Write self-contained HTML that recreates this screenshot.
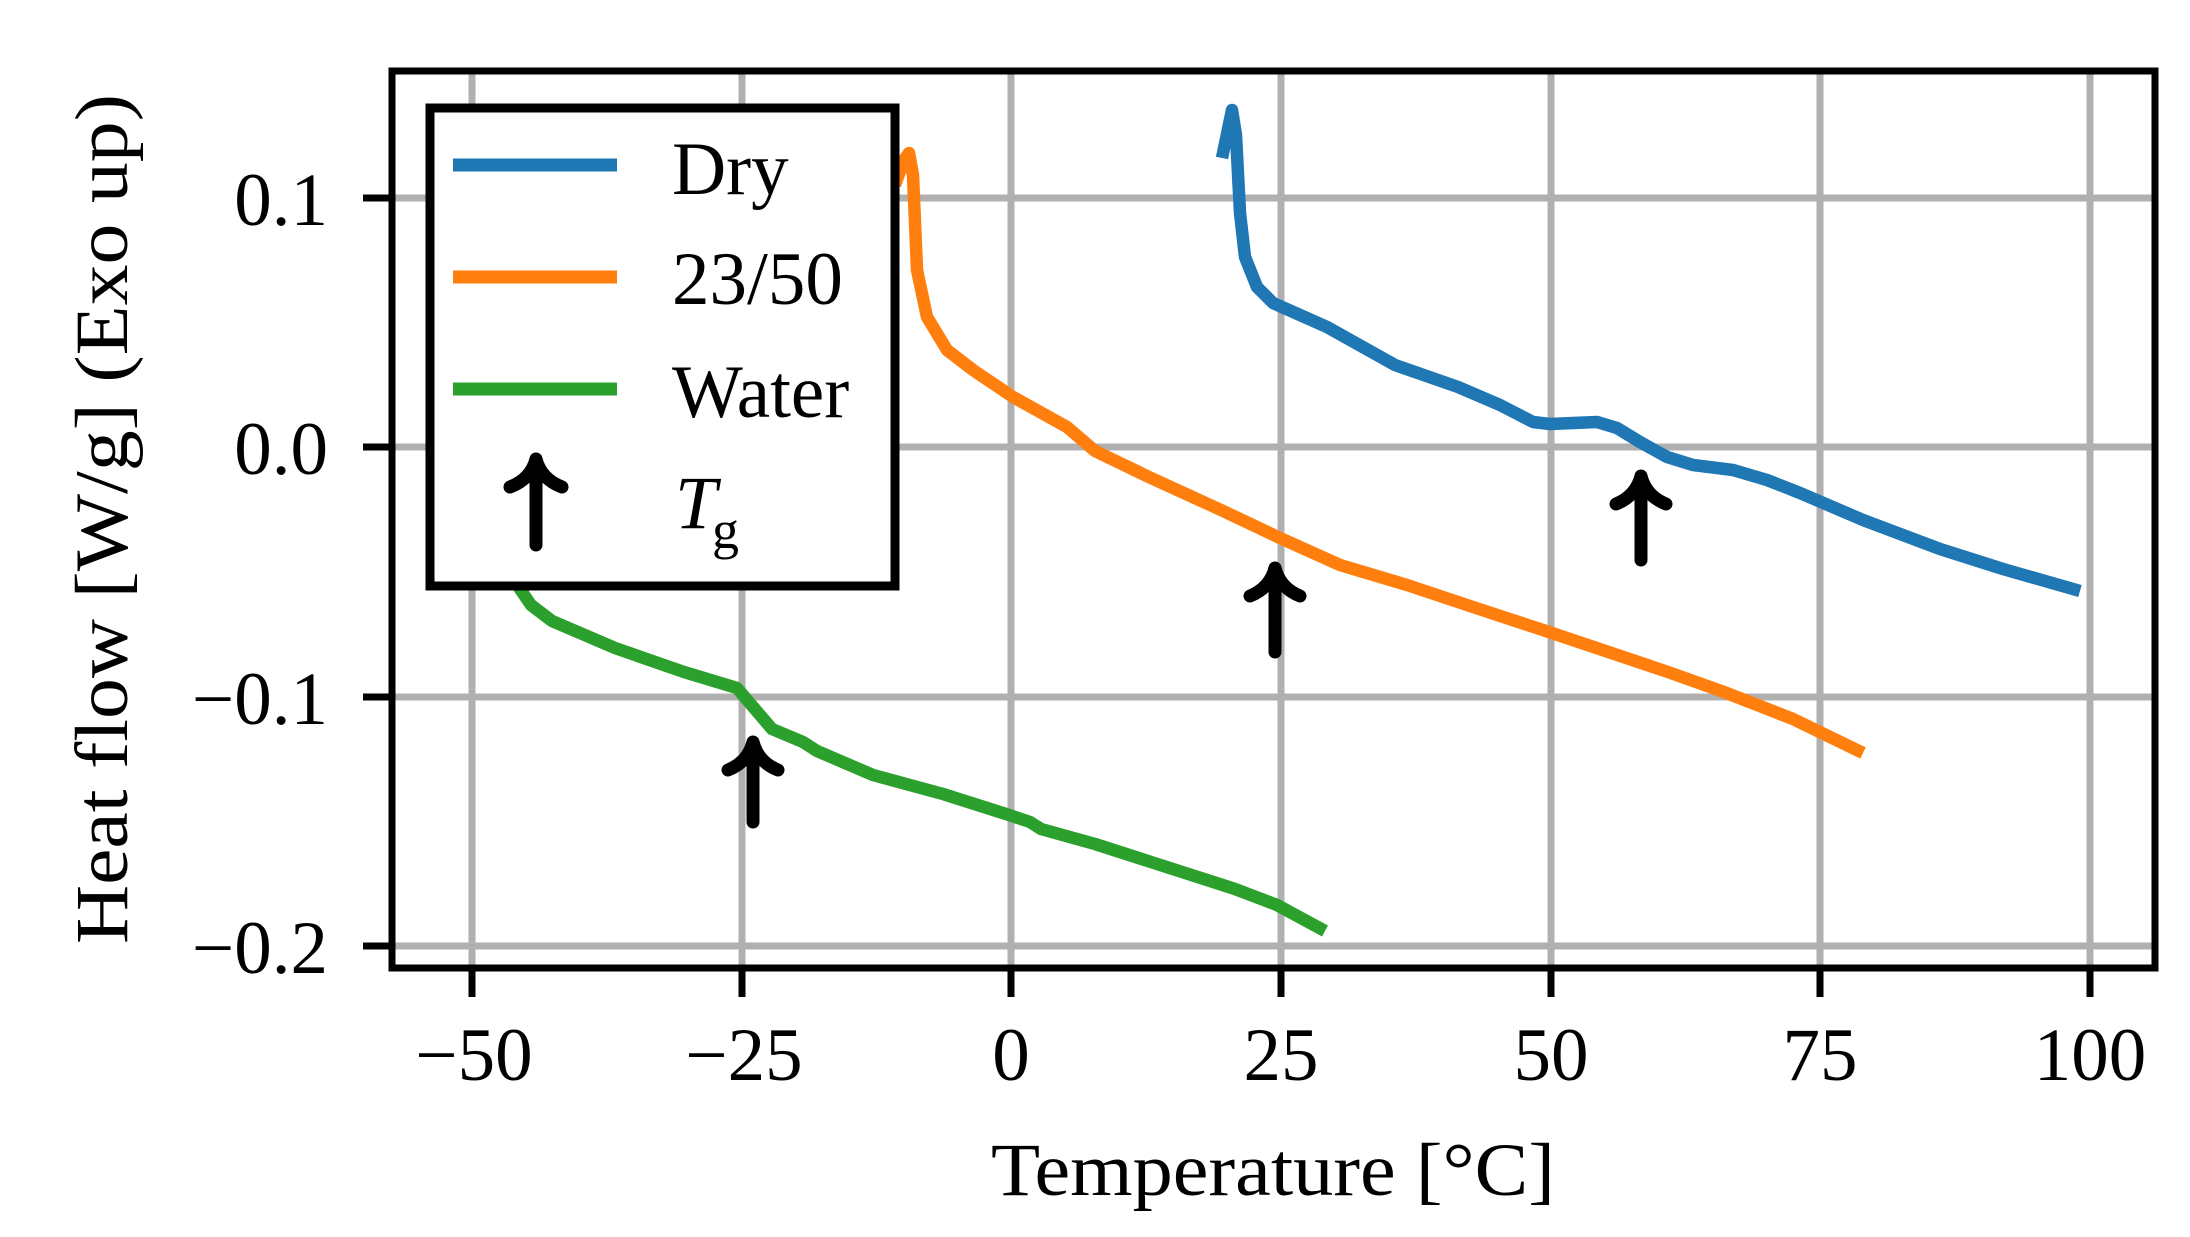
<!DOCTYPE html>
<html><head><meta charset="utf-8"><style>html,body{margin:0;padding:0;background:#fff}svg{display:block}</style></head>
<body>
<svg width="2190" height="1237" viewBox="0 0 2190 1237" xmlns="http://www.w3.org/2000/svg" font-family="Liberation Serif, serif">
<rect width="2190" height="1237" fill="#fff"/>
<g stroke="#b0b0b0" stroke-width="7">
<line x1="472" y1="71" x2="472" y2="968"/>
<line x1="742" y1="71" x2="742" y2="968"/>
<line x1="1011" y1="71" x2="1011" y2="968"/>
<line x1="1281" y1="71" x2="1281" y2="968"/>
<line x1="1551" y1="71" x2="1551" y2="968"/>
<line x1="1820" y1="71" x2="1820" y2="968"/>
<line x1="2090" y1="71" x2="2090" y2="968"/>
<line x1="392" y1="198" x2="2155" y2="198"/>
<line x1="392" y1="447" x2="2155" y2="447"/>
<line x1="392" y1="697" x2="2155" y2="697"/>
<line x1="392" y1="946" x2="2155" y2="946"/>
</g>
<g fill="none" stroke-width="12.5" stroke-linejoin="round">
<path stroke="#2ca02c" d="M505,560 L520,589 L531,605 L552,621 L615,648 L684,672 L737,688 L754,708 L772,729 L803,742 L817,751 L873,775 L943,794 L1006,814 L1030,822 L1041,829 L1095,844 L1235,889 L1277,905 L1325,931"/>
<path stroke="#ff7f0e" d="M895,185 L904,160 L909,153 L913,175 L917,270 L927,317 L947,350 L973,370 L1013,397 L1067,427 L1095,451 L1151,478 L1221,510 L1280,538 L1340,565 L1407,585 L1479,609 L1549,632 L1668,672 L1724,692 L1793,719 L1863,753"/>
<path stroke="#1f77b4" d="M1222,158 L1232,110 L1236,135 L1240,213 L1245,257 L1257,287 L1273,303 L1327,327 L1395,365 L1458,387 L1500,405 L1533,422 L1550,424 L1597,422 L1617,428 L1640,442 L1667,457 L1693,465 L1733,470 L1767,480 L1800,493 L1863,520 L1940,549 L2003,569 L2080,591"/>
</g>
<g fill="none" stroke="#000" stroke-width="13" stroke-linecap="round" stroke-linejoin="round">
<path d="M753,822 V742 M728,770 Q748,762 753,742 Q758,762 778,770"/>
<path d="M1275,652 V568 M1250,596 Q1270,588 1275,568 Q1280,588 1300,596"/>
<path d="M1641,560 V476 M1616,504 Q1636,496 1641,476 Q1646,496 1666,504"/>
</g>
<rect x="392" y="71" width="1763" height="897" fill="none" stroke="#000" stroke-width="7"/>
<g stroke="#000" stroke-width="7">
<line x1="363" y1="198" x2="392" y2="198"/>
<line x1="363" y1="447" x2="392" y2="447"/>
<line x1="363" y1="697" x2="392" y2="697"/>
<line x1="363" y1="946" x2="392" y2="946"/>
<line x1="472" y1="968" x2="472" y2="997"/>
<line x1="742" y1="968" x2="742" y2="997"/>
<line x1="1011" y1="968" x2="1011" y2="997"/>
<line x1="1281" y1="968" x2="1281" y2="997"/>
<line x1="1551" y1="968" x2="1551" y2="997"/>
<line x1="1820" y1="968" x2="1820" y2="997"/>
<line x1="2090" y1="968" x2="2090" y2="997"/>
</g>
<g font-size="75" fill="#000">
<g text-anchor="end">
<text x="328" y="225">0.1</text>
<text x="328" y="474">0.0</text>
<text x="328" y="724">−0.1</text>
<text x="328" y="973">−0.2</text>
</g>
<g text-anchor="middle">
<text x="474" y="1080">−50</text>
<text x="744" y="1080">−25</text>
<text x="1011" y="1080">0</text>
<text x="1281" y="1080">25</text>
<text x="1551" y="1080">50</text>
<text x="1820" y="1080">75</text>
<text x="2090" y="1080">100</text>
<text x="1273" y="1195" textLength="564" lengthAdjust="spacingAndGlyphs">Temperature [°C]</text>
<text transform="translate(127,519) rotate(-90)" textLength="850" lengthAdjust="spacingAndGlyphs">Heat flow [W/g] (Exo up)</text>
</g>
</g>
<rect x="430" y="108" width="465" height="478" fill="#fff" stroke="#000" stroke-width="9"/>
<g stroke-width="13">
<line x1="453" y1="165" x2="617" y2="165" stroke="#1f77b4"/>
<line x1="453" y1="277" x2="617" y2="277" stroke="#ff7f0e"/>
<line x1="453" y1="389" x2="617" y2="389" stroke="#2ca02c"/>
</g>
<path d="M536,545 V459 M510,487 Q531,479 536,459 Q541,479 562,487" fill="none" stroke="#000" stroke-width="13" stroke-linecap="round" stroke-linejoin="round"/>
<g font-size="75" fill="#000">
<text x="672" y="194">Dry</text>
<text x="672" y="304">23/50</text>
<text x="672" y="417">Water</text>
<text x="675" y="528" font-style="italic">T</text>
<text x="712" y="548" font-size="54">g</text>
</g>
</svg>
</body></html>
